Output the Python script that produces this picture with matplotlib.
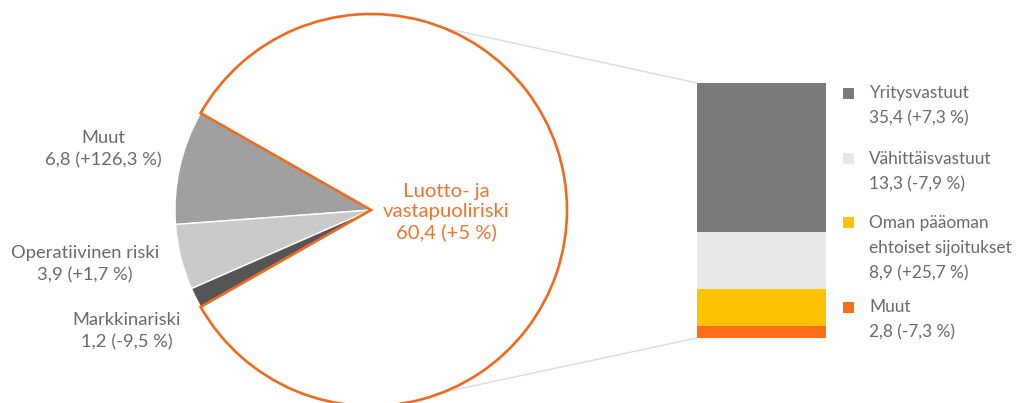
import numpy as np
import matplotlib
matplotlib.use("Agg")
import matplotlib.pyplot as plt

plt.rcParams['font.family'] = ['Lato', 'DejaVu Sans']

# pie: risk types
pie_labels = ["Muut", "Operatiivinen riski", "Markkinariski", "Luotto- ja\nvastapuoliriski"]
pie_values = [6.8, 3.9, 1.2, 60.4]
pie_changes = ["+126,3 %", "+1,7 %", "-9,5 %", "+5 %"]
pie_colors = ["#a0a0a0", "#cacaca", "#555555", "#ffffff"]

# bar: breakdown of credit risk
bar_labels = ["Yritysvastuut", "Vähittäisvastuut", "Oman pääoman\nehtoiset sijoitukset", "Muut"]
bar_values = [35.4, 13.3, 8.9, 2.8]
bar_changes = ["+7,3 %", "-7,9 %", "+25,7 %", "-7,3 %"]
bar_colors = ["#7a7a7a", "#e8e8e8", "#fdc300", "#ff6d1b"]

TXT = "#6a6a6a"
ORANGE = "#ef6a1e"
FS = 13.2


def fmt(v):
    return ("%.1f" % v).replace(".", ",")


W, H = 1020, 403
fig = plt.figure(figsize=(W / 100, H / 100), dpi=100)
ax = fig.add_axes([0, 0, 1, 1])

cx, cy, r = 371, 193, 196
small = sum(pie_values[:3])
total = sum(pie_values)
start = 180 - 0.5 * 360 * small / total

wedges, _ = ax.pie(pie_values, colors=pie_colors, center=(cx, cy), radius=r,
                   startangle=start, counterclock=True,
                   wedgeprops=dict(edgecolor="white", linewidth=1.0))
big = wedges[3]
big.set_edgecolor(ORANGE)
big.set_linewidth(1.9)
big.set_zorder(3)
for w in wedges[:3]:
    w.set_zorder(2)

ax.set_xlim(0, W)
ax.set_ylim(0, H)
ax.set_aspect("equal")
ax.set_axis_off()

# labels for small slices
lab_pos = [(103, 254), (85, 139), (127, 72)]
for (x, y), lab, v, c in zip(lab_pos, pie_labels[:3], pie_values[:3], pie_changes[:3]):
    ax.text(x, y, "%s\n%s (%s)" % (lab, fmt(v), c), ha="center", va="center",
            color=TXT, fontsize=FS, linespacing=1.45)

ax.text(446, 191, "%s\n%s (%s)" % (pie_labels[3], fmt(pie_values[3]), pie_changes[3]),
        ha="center", va="center", color="#f07430", fontsize=14.6, linespacing=1.2)

# stacked bar
bx0, by0, bw, bh = 697, 65, 129, 255
axb = fig.add_axes([bx0 / W, by0 / H, bw / W, bh / H])
bottom = 0
for v, col in zip(bar_values[::-1], bar_colors[::-1]):
    axb.bar(0, v, bottom=bottom, width=1.0, color=col, linewidth=0)
    bottom += v
axb.set_xlim(-0.5, 0.5)
axb.set_ylim(0, sum(bar_values))
axb.set_axis_off()

# connector lines
ang = np.deg2rad(68.4)
ax.plot([cx + r * np.cos(ang), bx0], [cy + r * np.sin(ang), by0 + bh],
        color="#dcdcdc", lw=1.0, zorder=1)
ax.plot([cx + r * np.cos(ang), bx0], [cy - r * np.sin(ang), by0],
        color="#dcdcdc", lw=1.0, zorder=1)

# legend
leg_y = [310, 244, 180, 96]
for y, lab, v, c, col in zip(leg_y, bar_labels, bar_values, bar_changes, bar_colors):
    ax.add_patch(plt.Rectangle((843, y - 5.5), 11, 11, color=col, lw=0))
    lines = lab.split("\n") + ["%s (%s)" % (fmt(v), c)]
    for i, s in enumerate(lines):
        ax.text(869, y - 25 * i, s, ha="left", va="center", color=TXT, fontsize=12.4)

fig.savefig("out.png", dpi=100)
